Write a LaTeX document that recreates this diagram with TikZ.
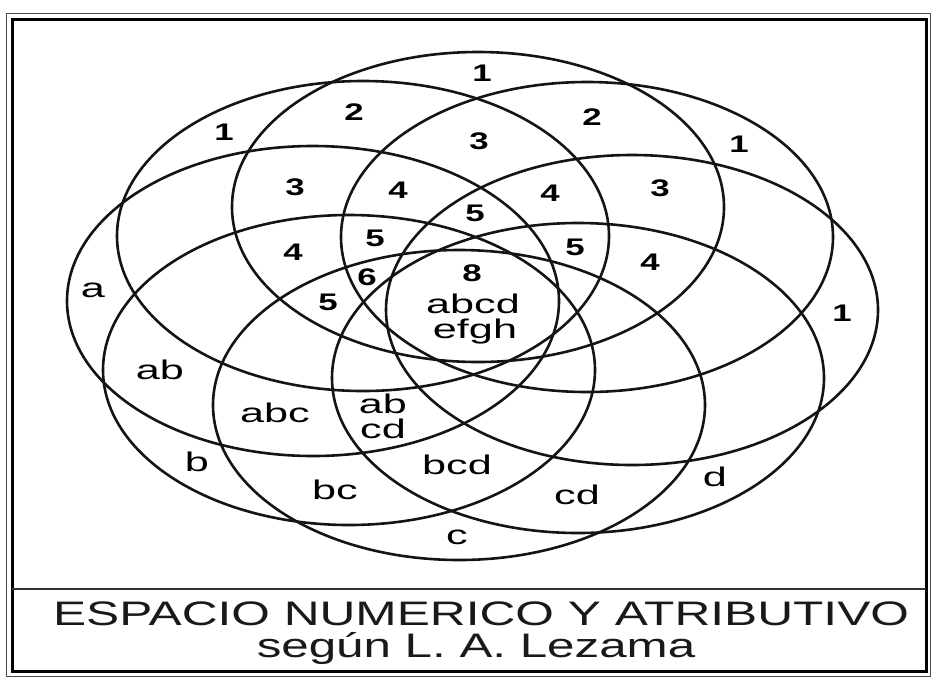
\documentclass[tikz,border=0pt]{standalone}
\usepackage{fontspec}
\setmainfont{Liberation Sans}
\usepackage{graphicx}
\newcommand\hwide[2]{\scalebox{#1}[1]{#2}}
\begin{document}
\begin{tikzpicture}[x=1pt,y=-1pt,
  ring/.style={line width=2.6pt, draw=black!92},
  num/.style={font=\fontsize{24}{24}\selectfont\bfseries, inner sep=0pt},
  lbl/.style={font=\fontsize{27}{27}\selectfont, inner sep=0pt},
  ttl/.style={font=\fontsize{34}{34}\selectfont, inner sep=0pt, text=black!90}]
\useasboundingbox[fill=white] (0,0) rectangle (931,678);
% frame
\draw[line width=1pt, black!70] (6,13) rectangle (930,676);
\draw[line width=3pt] (12,19) rectangle (926,671);
\draw[line width=1.6pt, black!80] (12,589) -- (926,589);
% eight ellipses
\draw[ring] (478,207) ellipse [x radius=246pt, y radius=155pt];
\draw[ring] (363,236) ellipse [x radius=246pt, y radius=155pt];
\draw[ring] (587,237) ellipse [x radius=246pt, y radius=155pt];
\draw[ring] (313,301) ellipse [x radius=246pt, y radius=155pt];
\draw[ring] (632,310) ellipse [x radius=246pt, y radius=155pt];
\draw[ring] (349,370) ellipse [x radius=246pt, y radius=155pt];
\draw[ring] (578,378) ellipse [x radius=246pt, y radius=155pt];
\draw[ring] (459,405) ellipse [x radius=246pt, y radius=155pt];
% numbers
\node[num] (n1) at (482,73) {\hwide{1.45}{1}};
\node[num] (n2) at (354,112) {\hwide{1.45}{2}};
\node[num] (n3) at (224,132) {\hwide{1.45}{1}};
\node[num] (n4) at (592,117) {\hwide{1.45}{2}};
\node[num] (n5) at (479,141) {\hwide{1.45}{3}};
\node[num] (n6) at (739,144) {\hwide{1.45}{1}};
\node[num] (n7) at (295,187) {\hwide{1.45}{3}};
\node[num] (n8) at (398,190) {\hwide{1.45}{4}};
\node[num] (n9) at (475,213) {\hwide{1.45}{5}};
\node[num] (n10) at (550,193) {\hwide{1.45}{4}};
\node[num] (n11) at (660,188) {\hwide{1.45}{3}};
\node[num] (n12) at (375,238) {\hwide{1.45}{5}};
\node[num] (n13) at (575,247) {\hwide{1.45}{5}};
\node[num] (n14) at (293,252) {\hwide{1.45}{4}};
\node[num] (n15) at (367,277) {\hwide{1.45}{6}};
\node[num] (n16) at (472,273) {\hwide{1.45}{8}};
\node[num] (n17) at (650,262) {\hwide{1.45}{4}};
\node[num] (n18) at (328,302) {\hwide{1.45}{5}};
\node[num] (n19) at (842,313) {\hwide{1.45}{1}};
% attribute labels
\node[lbl] (la) at (93,290) {\hwide{1.6}{a}};
\node[lbl] (lab) at (160,370) {\hwide{1.6}{ab}};
\node[lbl] (labcd) at (473,304) {\hwide{1.6}{abcd}};
\node[lbl] (lefgh) at (475,332) {\hwide{1.6}{efgh}};
\node[lbl] (labc) at (275,413) {\hwide{1.6}{abc}};
\node[lbl] (lab2) at (383,404) {\hwide{1.6}{ab}};
\node[lbl] (lcd2) at (383,429) {\hwide{1.6}{cd}};
\node[lbl] (lb) at (197,462) {\hwide{1.6}{b}};
\node[lbl] (lbcd) at (457,465) {\hwide{1.6}{bcd}};
\node[lbl] (lbc) at (335,490) {\hwide{1.6}{bc}};
\node[lbl] (lcd) at (577,495) {\hwide{1.6}{cd}};
\node[lbl] (ld) at (715,477) {\hwide{1.6}{d}};
\node[lbl] (lc) at (457,537) {\hwide{1.6}{c}};
% title
\node[ttl] (t1) at (481,613.5) {\hwide{1.46}{ESPACIO NUMERICO Y ATRIBUTIVO}};
\node[ttl, anchor=base] (t2) at (476,657) {\hwide{1.45}{según L. A. Lezama}};
\end{tikzpicture}
\end{document}
